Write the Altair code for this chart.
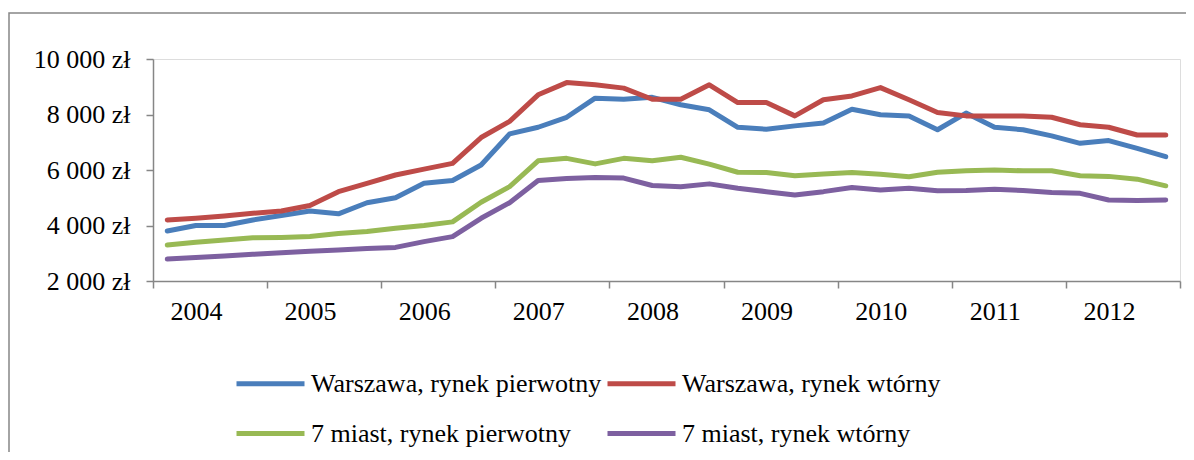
import altair as alt
import pandas as pd

years = [2004, 2005, 2006, 2007, 2008, 2009, 2010, 2011, 2012]
quarters = [f"{y} Q{q}" for y in years for q in range(1, 5)]

series_names = [
    "Warszawa, rynek pierwotny",
    "Warszawa, rynek wtórny",
    "7 miast, rynek pierwotny",
    "7 miast, rynek wtórny",
]
colors = ["#4A7EBB", "#BE4B48", "#98B954", "#7D60A0"]

warszawa_pierwotny = [3800, 4000, 4000, 4200, 4360, 4520, 4420, 4820, 5000, 5520, 5620, 6180,
                      7300, 7540, 7900, 8590, 8550, 8620, 8350, 8170, 7540, 7470, 7590, 7690,
                      8190, 7990, 7950, 7450, 8050, 7540, 7450, 7230, 6960, 7060, 6780, 6480]
warszawa_wtorny = [4200, 4260, 4340, 4440, 4520, 4720, 5220, 5520, 5820, 6030, 6240, 7170,
                   7750, 8710, 9150, 9070, 8950, 8550, 8550, 9070, 8430, 8430, 7950, 8530,
                   8670, 8970, 8530, 8070, 7950, 7950, 7950, 7900, 7630, 7540, 7260, 7260]
miast_pierwotny = [3300, 3400, 3480, 3560, 3570, 3600, 3710, 3780, 3900, 4000, 4130, 4840,
                   5400, 6330, 6420, 6220, 6420, 6330, 6460, 6210, 5920, 5910, 5790, 5860,
                   5910, 5850, 5760, 5920, 5970, 6000, 5970, 5970, 5790, 5770, 5670, 5430]
miast_wtorny = [2790, 2850, 2900, 2960, 3020, 3070, 3120, 3170, 3210, 3420, 3600, 4260,
                4820, 5620, 5690, 5730, 5710, 5440, 5400, 5500, 5340, 5220, 5100, 5220,
                5370, 5280, 5340, 5250, 5260, 5310, 5260, 5190, 5160, 4920, 4900, 4920]

y_ticks = [2000, 4000, 6000, 8000, 10000]

all_series = [warszawa_pierwotny, warszawa_wtorny, miast_pierwotny, miast_wtorny]
rows = []
for name, vals in zip(series_names, all_series):
    for i, (q, v) in enumerate(zip(quarters, vals)):
        rows.append({"seria": name, "kwartal": q, "pos": i + 0.5, "cena": v})
df = pd.DataFrame(rows)

FONT = "Liberation Serif"
GRAY = "#868686"
n_q = len(quarters)
year_arr = "[" + ",".join(str(y) for y in years) + "]"

lines = alt.Chart(df).mark_line(strokeWidth=5, strokeCap="round", strokeJoin="round").encode(
    x=alt.X("pos:Q",
            scale=alt.Scale(domain=[0, n_q], nice=False, zero=False),
            axis=alt.Axis(values=list(range(0, n_q + 1, 4)),
                          labelExpr=f"datum.value < {n_q} ? '' + {year_arr}[datum.value/4] : ''",
                          labelOffset=43, labelFlush=False, labelOverlap=False,
                          title=None, tickSize=7, tickColor=GRAY, tickWidth=1.5,
                          domainColor=GRAY, domainWidth=1.5,
                          labelFont=FONT, labelFontSize=26, labelColor="black",
                          labelPadding=10, grid=False)),
    y=alt.Y("cena:Q",
            scale=alt.Scale(domain=[2000, 10000], nice=False, zero=False),
            axis=alt.Axis(values=y_ticks,
                          labelExpr="replace(format(datum.value, ',.0f'), ',', ' ') + ' zł'",
                          title=None, tickSize=7, tickColor=GRAY, tickWidth=1.5,
                          domainColor=GRAY, domainWidth=1.5,
                          labelFont=FONT, labelFontSize=26, labelColor="black",
                          labelPadding=16, grid=False)),
    color=alt.Color("seria:N",
                    scale=alt.Scale(domain=series_names, range=colors),
                    sort=series_names,
                    legend=alt.Legend(orient="none", legendX=81, legendY=288,
                                      columns=2, direction="horizontal", title=None,
                                      symbolType="stroke", symbolSize=4624,
                                      symbolStrokeWidth=5,
                                      labelFont=FONT, labelFontSize=26, labelColor="black",
                                      labelLimit=600, labelOffset=4,
                                      padding=0, rowPadding=-22, columnPadding=-5)),
    order=alt.Order("pos:Q"),
)

frame = alt.Chart(pd.DataFrame({"f": [0]})).mark_rect(
    fill="transparent", stroke=GRAY, strokeWidth=1.5
).encode(
    x=alt.value(-144), x2=alt.value(1300),
    y=alt.value(-46), y2=alt.value(600),
)

chart = alt.layer(frame, lines).properties(
    width=1027, height=222,
    autosize=alt.AutoSizeParams(type="none"),
    padding={"left": 145, "top": 51, "right": 6, "bottom": 171},
).configure_view(stroke=None).configure(background="white")

chart.save("out.html", embed_options={"renderer": "svg", "actions": False})
